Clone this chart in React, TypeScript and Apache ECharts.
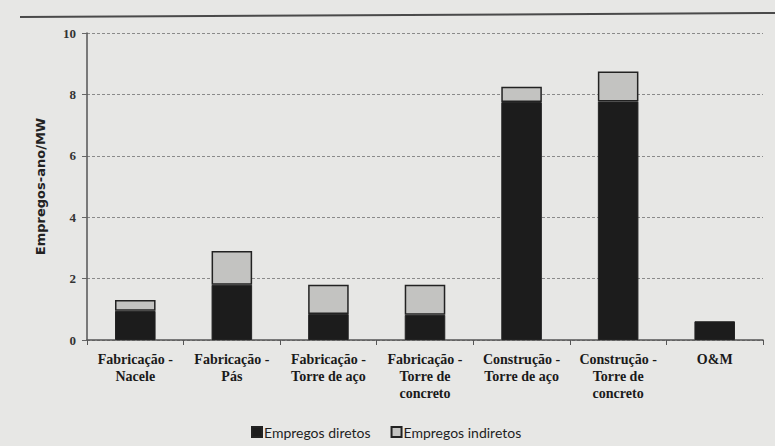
import React, { useEffect, useRef } from "react";
import * as echarts from "echarts";

const categories = [
  "Fabricação -\nNacele",
  "Fabricação -\nPás",
  "Fabricação -\nTorre de aço",
  "Fabricação -\nTorre de\nconcreto",
  "Construção -\nTorre de aço",
  "Construção -\nTorre de\nconcreto",
  "O&M",
];
const diretos = [0.95, 1.8, 0.85, 0.82, 7.75, 7.77, 0.61];
const indiretos: (number | null)[] = [0.35, 1.1, 0.95, 0.98, 0.5, 0.98, null];
const seriesNames = ["Empregos diretos", "Empregos indiretos"];
const yAxisName = "Empregos-ano/MW";

export default function App() {
  const ref = useRef<HTMLDivElement>(null);
  useEffect(() => {
    document.body.style.margin = "0";
    const chart = echarts.init(ref.current!, null, { renderer: "svg" });
    chart.setOption({
      animation: false,
      backgroundColor: "#e7e7e5",
      grid: { left: 87, right: 12, top: 33, bottom: 106, containLabel: false },
      legend: {
        left: 246,
        top: 420,
        itemWidth: 10,
        itemHeight: 10,
        itemGap: 20,
        icon: "rect",
        textStyle: { fontFamily: "Lato", fontSize: 14, color: "#1e1e1e", padding: [0, 0, 0, -3] },
        data: seriesNames,
      },
      graphic: [
        {
          type: "line",
          shape: { x1: 20, y1: 17, x2: 775, y2: 13 },
          style: { stroke: "#4a4a4a", lineWidth: 2 },
        },
      ],
      xAxis: {
        type: "category",
        data: categories,
        axisLine: { lineStyle: { color: "#555", width: 1.5 } },
        axisTick: { show: true, length: 5, lineStyle: { color: "#555" } },
        axisLabel: {
          interval: 0,
          margin: 11,
          fontFamily: "Liberation Serif",
          fontWeight: "bold",
          fontSize: 14,
          lineHeight: 17,
          color: "#1a1a1a",
        },
      },
      yAxis: {
        type: "value",
        min: 0,
        max: 10,
        interval: 2,
        name: yAxisName,
        nameLocation: "middle",
        nameGap: 40,
        nameTextStyle: { fontFamily: "DejaVu Sans", fontWeight: "bold", fontSize: 13, color: "#222" },
        axisLine: { show: true, lineStyle: { color: "#555", width: 1.5 } },
        axisTick: { show: true, length: 5, lineStyle: { color: "#666" } },
        axisLabel: {
          margin: 11,
          fontFamily: "Liberation Serif",
          fontWeight: "bold",
          fontSize: 13,
          color: "#333",
        },
        splitLine: { lineStyle: { type: [3, 2], color: "#8a8a8a", width: 1 } },
      },
      series: [
        {
          name: seriesNames[0],
          type: "bar",
          stack: "total",
          barWidth: "42%",
          data: diretos,
          itemStyle: { color: "#1c1c1c", borderColor: "#222", borderWidth: 1 },
        },
        {
          name: seriesNames[1],
          type: "bar",
          stack: "total",
          barWidth: "42%",
          data: indiretos,
          itemStyle: { color: "#c3c3c1", borderColor: "#222", borderWidth: 1.5 },
        },
      ],
    });
    return () => chart.dispose();
  }, []);
  return <div ref={ref} style={{ position: "fixed", left: 0, top: 0, width: 775, height: 446 }} />;
}
